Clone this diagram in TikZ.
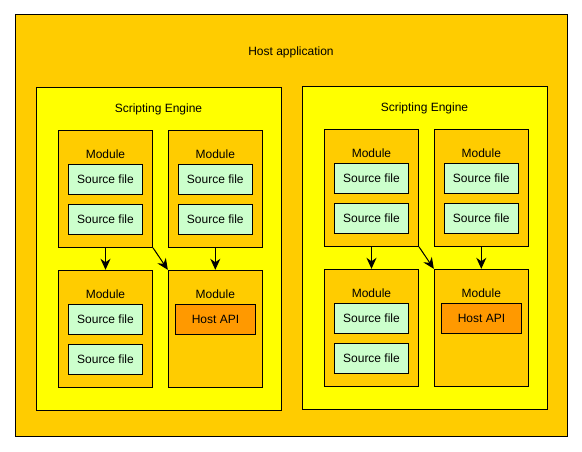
\documentclass[tikz,border=0pt]{standalone}
\usepackage{fontspec}
\setmainfont{Liberation Sans}
\usetikzlibrary{arrows.meta}
\definecolor{HOSTgold}{RGB}{255,204,0}
\definecolor{HOSTyellow}{RGB}{255,255,0}
\definecolor{HOSTmint}{RGB}{204,255,204}
\definecolor{HOSTorange}{RGB}{255,153,0}
\tikzstyle{HOSTbox}=[draw=black, line width=1pt, inner sep=0pt]
\tikzstyle{HOSTengine}=[HOSTbox, fill=HOSTyellow, minimum width=245pt, minimum height=322pt]
\tikzstyle{HOSTmodule}=[HOSTbox, fill=HOSTgold, minimum width=94pt, minimum height=117pt]
\tikzstyle{HOSTsource}=[HOSTbox, fill=HOSTmint, minimum width=74pt, minimum height=30pt]
\tikzstyle{HOSTapi}=[HOSTbox, fill=HOSTorange, minimum width=80pt, minimum height=30pt]
\tikzstyle{HOSTarrow}=[line width=1pt, -{Stealth[length=11pt,width=10pt,inset=3.5pt]}]

\begin{document}
\begin{tikzpicture}[x=1pt, y=-1pt, every node/.style={font=\fontsize{12}{14}\selectfont}]
                \path [use as bounding box] (0,0) rectangle (582,452);
                \node [HOSTbox, fill=HOSTgold, minimum width=552pt, minimum height=421pt] (host) at (291,225.5) {};
                \node (hostlabel) at (291,52.5) {Host application};
                % left engine
                \begin{scope}
                    \node [HOSTengine] (le) at (158.5,249) {};
                    \node (lelabel) at (158.5,109.5) {Scripting Engine};
                    \node [HOSTmodule] (ltl) at (105.5,188.8) {};
                    \node [HOSTmodule] (ltr) at (215.3,188.8) {};
                    \node [HOSTmodule] (lbl) at (105.5,328.8) {};
                    \node [HOSTmodule] (lbr) at (215.3,328.8) {};
                    \node (ltllabel) at (105.5,154.2) {Module};
                    \node (ltrlabel) at (215.3,154.2) {Module};
                    \node (lbllabel) at (105.5,294.2) {Module};
                    \node (lbrlabel) at (215.3,294.2) {Module};
                    \node [HOSTsource] (ltla) at (105.5,179.3) {Source file};
                    \node [HOSTsource] (ltlb) at (105.5,219.3) {Source file};
                    \node [HOSTsource] (ltra) at (215.3,179.3) {Source file};
                    \node [HOSTsource] (ltrb) at (215.3,219.3) {Source file};
                    \node [HOSTsource] (lbla) at (105.5,319.3) {Source file};
                    \node [HOSTsource] (lblb) at (105.5,359.3) {Source file};
                    \node [HOSTapi] (lapi) at (215.5,319.3) {Host API};
                    \draw [HOSTarrow] (ltl.south) -- (lbl.north);
                    \draw [HOSTarrow] (ltl.south east) -- (lbr.north west);
                    \draw [HOSTarrow] (ltr.south) -- (lbr.north);
                \end{scope}
                % right engine
                \begin{scope}[shift={(266,-1)}]
                    \node [HOSTengine] (re) at (158.5,249) {};
                    \node (relabel) at (158.5,109.5) {Scripting Engine};
                    \node [HOSTmodule] (rtl) at (105.5,188.8) {};
                    \node [HOSTmodule] (rtr) at (215.3,188.8) {};
                    \node [HOSTmodule] (rbl) at (105.5,328.8) {};
                    \node [HOSTmodule] (rbr) at (215.3,328.8) {};
                    \node (rtllabel) at (105.5,154.2) {Module};
                    \node (rtrlabel) at (215.3,154.2) {Module};
                    \node (rbllabel) at (105.5,294.2) {Module};
                    \node (rbrlabel) at (215.3,294.2) {Module};
                    \node [HOSTsource] (rtla) at (105.5,179.3) {Source file};
                    \node [HOSTsource] (rtlb) at (105.5,219.3) {Source file};
                    \node [HOSTsource] (rtra) at (215.3,179.3) {Source file};
                    \node [HOSTsource] (rtrb) at (215.3,219.3) {Source file};
                    \node [HOSTsource] (rbla) at (105.5,319.3) {Source file};
                    \node [HOSTsource] (rblb) at (105.5,359.3) {Source file};
                    \node [HOSTapi] (rapi) at (215.5,319.3) {Host API};
                    \draw [HOSTarrow] (rtl.south) -- (rbl.north);
                    \draw [HOSTarrow] (rtl.south east) -- (rbr.north west);
                    \draw [HOSTarrow] (rtr.south) -- (rbr.north);
                \end{scope}
            \end{tikzpicture}
\end{document}
